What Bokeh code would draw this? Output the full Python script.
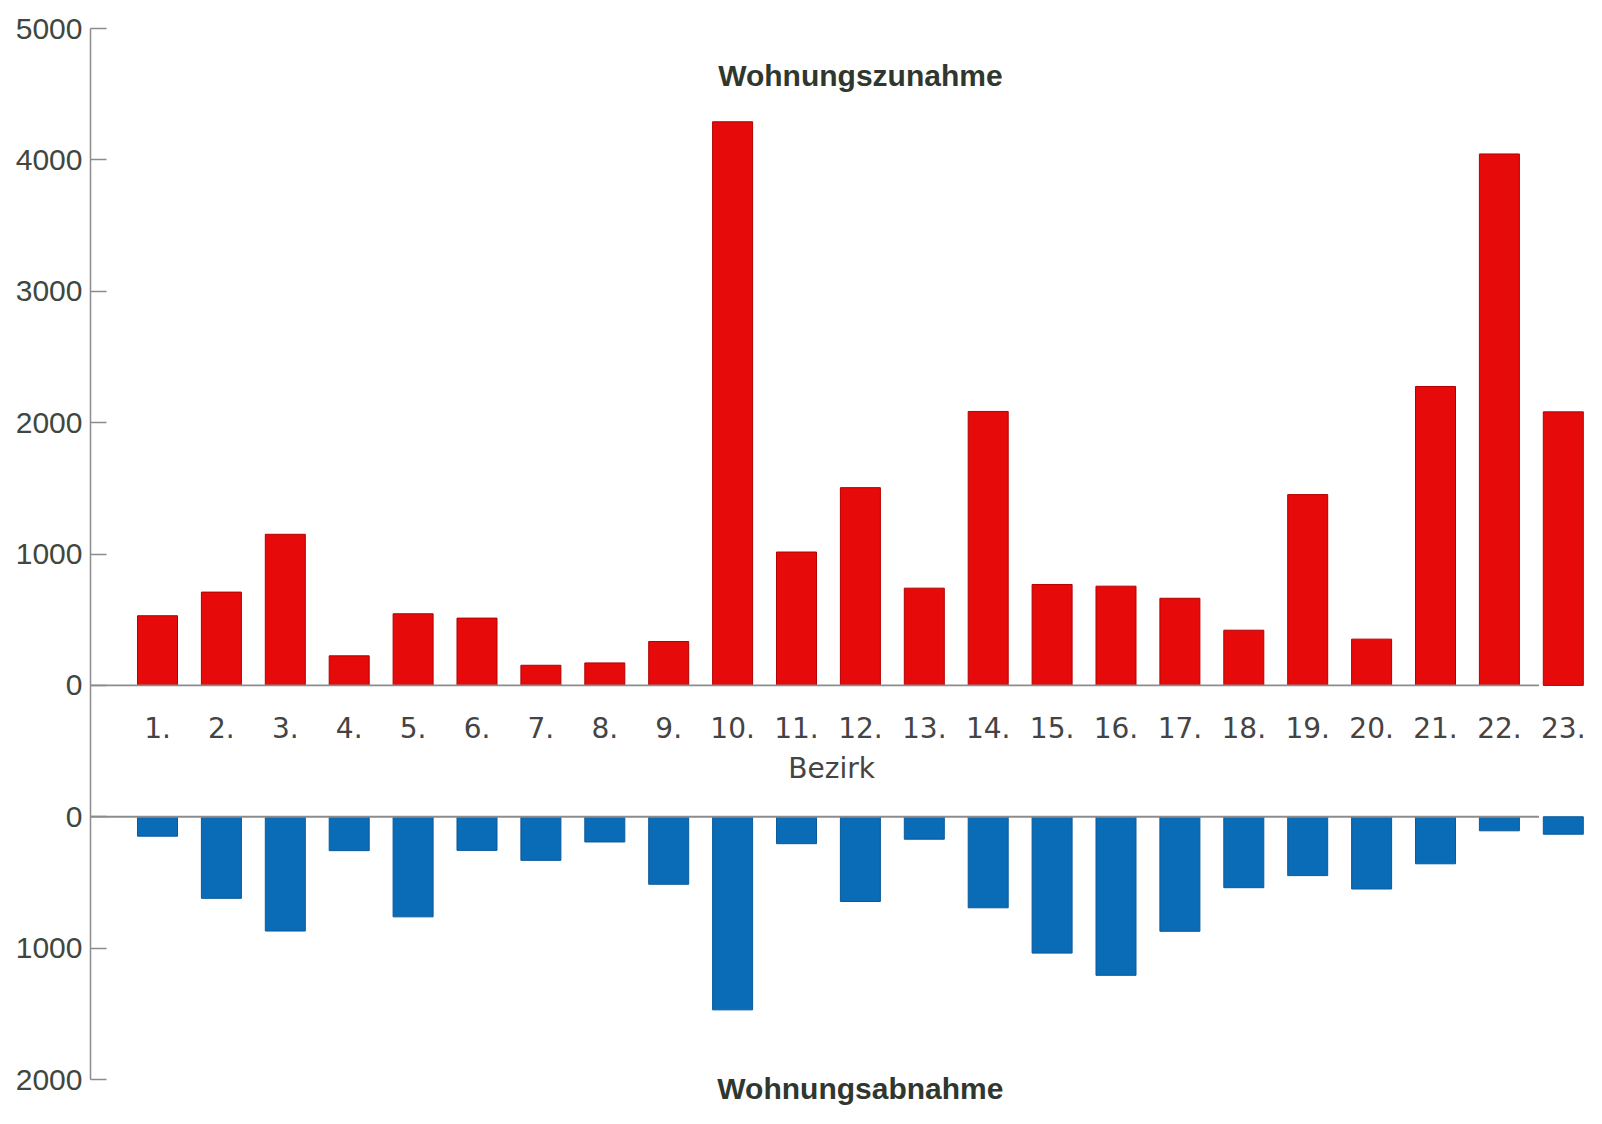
from bokeh.plotting import figure
from bokeh.models import Range1d, FixedTicker, ColumnDataSource
from bokeh.core.properties import value
from bokeh.embed import file_html
from bokeh.resources import INLINE

# ---- data ----
bezirke = list(range(1, 24))
bezirk_labels = [f"{b}." for b in bezirke]
zunahme = [530, 710, 1150, 225, 545, 512, 153, 171, 334, 4290, 1015, 1505, 740,
           2085, 768, 755, 663, 420, 1452, 352, 2275, 4045, 2082]
abnahme = [148, 621, 870, 258, 762, 256, 332, 192, 514, 1470, 205, 645, 171,
           693, 1038, 1207, 872, 540, 448, 550, 358, 107, 133]
top_ticks = [0, 1000, 2000, 3000, 4000, 5000]
bottom_ticks = [0, 1000, 2000]
title_top = "Wohnungszunahme"
title_bottom = "Wohnungsabnahme"
x_title = "Bezirk"

# ---- layout constants ----
GAP = 1000          # vertical offset of the lower panel's zero line (data units)
W, H = 1586, 1108
LEFT = 90
PX_PER_UNIT = 0.131375
X_PX = 63.9
x_start = 1 - (157 - LEFT) / X_PX
x_end = x_start + (W - LEFT) / X_PX
y_end = 5000 + 28 / PX_PER_UNIT
y_start = y_end - H / PX_PER_UNIT

RED = "#e60a0a"
RED_EDGE = "#b30000"
BLUE = "#0a6bb6"
BLUE_EDGE = "#0a5a9a"
GRAY = "#8c8c8c"
TXT = "#3f473f"

p = figure(width=W, height=H, output_backend="svg", toolbar_location=None,
           x_range=Range1d(x_start, x_end), y_range=Range1d(y_start, y_end),
           x_axis_location=None, min_border_left=LEFT, min_border_right=0,
           min_border_top=0, min_border_bottom=0)
p.outline_line_color = None
p.xgrid.visible = False
p.ygrid.visible = False
p.background_fill_color = "white"

src = ColumnDataSource(dict(
    x=bezirke, lab=bezirk_labels, zu=zunahme,
    ab_top=[-GAP] * len(abnahme),
    ab_bot=[-GAP - v for v in abnahme],
))

p.vbar(x="x", top="zu", bottom=0, width=0.626, source=src,
       fill_color=RED, line_color=RED_EDGE, line_width=1)
p.vbar(x="x", top="ab_top", bottom="ab_bot", width=0.626, source=src,
       fill_color=BLUE, line_color=BLUE_EDGE, line_width=1)

# baselines
p.segment(x0=[x_start, x_start], y0=[0, -GAP], x1=[22.62, 22.62], y1=[0, -GAP],
          line_color=GRAY, line_width=1.8)

# y axis
ax = p.yaxis[0]
tick_vals = top_ticks + [-GAP - t for t in bottom_ticks]
ax.ticker = FixedTicker(ticks=tick_vals)
overrides = {t: str(t) for t in top_ticks}
overrides.update({-GAP - t: str(t) for t in bottom_ticks})
ax.major_label_overrides = overrides
ax.bounds = (-GAP - max(bottom_ticks), max(top_ticks))
ax.axis_line_color = GRAY
ax.axis_line_width = 1.5
ax.major_tick_line_color = GRAY
ax.major_tick_line_width = 1.5
ax.major_tick_in = 16
ax.major_tick_out = 0
ax.minor_tick_line_color = None
ax.major_label_standoff = 8
ax.major_label_text_font = "Liberation Sans"
ax.major_label_text_font_size = "30px"
ax.major_label_text_color = TXT

# district labels
p.text(x="x", y=-317, text="lab", source=src, text_align="center",
       text_baseline="alphabetic", text_font=value("DejaVu Sans"),
       text_font_size="28px", text_color="#444444")
p.text(x=[11.55], y=[-636], text=[x_title], text_align="center",
       text_baseline="alphabetic", text_font=value("DejaVu Sans"),
       text_font_size="28px", text_color="#444444")

# panel titles
p.text(x=[12], y=[4639], text=[title_top], text_align="center",
       text_baseline="alphabetic", text_font=value("Liberation Sans"),
       text_font_style="bold", text_font_size="30px", text_color="#2f372f")
p.text(x=[12], y=[-3072], text=[title_bottom], text_align="center",
       text_baseline="alphabetic", text_font=value("Liberation Sans"),
       text_font_style="bold", text_font_size="30px", text_color="#2f372f")

open("out.html", "w").write(file_html(p, INLINE))
